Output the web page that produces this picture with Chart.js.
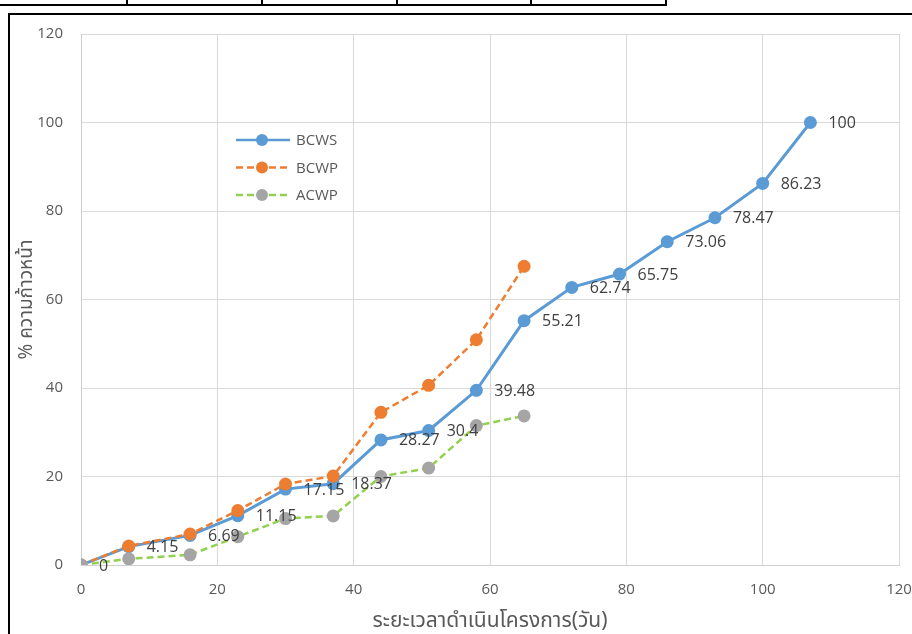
<!DOCTYPE html>
<html>
<head>
<meta charset="utf-8">
<script src="https://cdn.jsdelivr.net/npm/chart.js@4"></script>
<style>
    html, body { margin: 0; padding: 0; background: #fff; }
    #wrap { position: relative; width: 912px; height: 634px; overflow: hidden; }
    .cell { position: absolute; top: -10px; height: 12px; border: 2px solid #000; border-left: none; }
    #box { position: absolute; left: 8px; top: 13px; width: 920px; height: 640px; border: 2.5px solid #000; }
    canvas { position: absolute; left: 0; top: 0; }
</style>
</head>
<body>
<div id="wrap">
    <div class="cell" style="left:-2px; width:128px;"></div>
    <div class="cell" style="left:128px; width:133px;"></div>
    <div class="cell" style="left:263px; width:133px;"></div>
    <div class="cell" style="left:398px; width:132px;"></div>
    <div class="cell" style="left:532px; width:133px;"></div>
    <div id="box"></div>
    <canvas id="chart" width="912" height="634"></canvas>
</div>
<script>
// วันที่ (แกน x)
const days = [0, 7, 16, 23, 30, 37, 44, 51, 58, 65, 72, 79, 86, 93, 100, 107];
const bcws = [0, 4.15, 6.69, 11.15, 17.15, 18.37, 28.27, 30.4, 39.48, 55.21, 62.74, 65.75, 73.06, 78.47, 86.23, 100];
const bcwp = [0, 4.3, 7.0, 12.3, 18.3, 20.1, 34.5, 40.6, 50.9, 67.5];
const acwp = [0, 1.4, 2.3, 6.4, 10.5, 11.1, 20.0, 21.9, 31.5, 33.7];
const xTicks = [0, 20, 40, 60, 80, 100, 120];
const yTicks = [0, 20, 40, 60, 80, 100, 120];

const thaiFont = "'Noto Sans Thai', 'Leelawadee UI', Tahoma, 'Open Sans', sans-serif";

function toPoints(vals) {
    return vals.map((v, i) => ({ x: days[i], y: v }));
}

const series = [
    { label: 'BCWS', data: bcws, line: '#5b9bd5', dot: '#5b9bd5', dash: [] },
    { label: 'BCWP', data: bcwp, line: '#ed7d31', dot: '#ed7d31', dash: [7, 4] },
    { label: 'ACWP', data: acwp, line: '#92d050', dot: '#a5a5a5', dash: [7, 4] }
];

// ป้ายค่าของ BCWS ด้านขวาของจุด
const valueLabels = {
    id: 'valueLabels',
    afterDatasetsDraw(chart) {
        const ctx = chart.ctx;
        const meta = chart.getDatasetMeta(0);
        ctx.save();
        ctx.font = "16px 'Open Sans', sans-serif";
        ctx.fillStyle = '#404040';
        ctx.textAlign = 'left';
        ctx.textBaseline = 'middle';
        meta.data.forEach((pt, i) => {
            ctx.fillText(String(bcws[i]), pt.x + 18, pt.y + 1);
        });
        ctx.restore();
    }
};

// คำอธิบายสัญลักษณ์ภายในพื้นที่กราฟ
const insideLegend = {
    id: 'insideLegend',
    afterDraw(chart) {
        const ctx = chart.ctx;
        ctx.save();
        series.forEach((s, i) => {
            const y = 140 + i * 27.5;
            ctx.strokeStyle = s.line;
            ctx.lineWidth = 2.5;
            ctx.setLineDash(s.dash);
            ctx.beginPath();
            ctx.moveTo(236, y);
            ctx.lineTo(290, y);
            ctx.stroke();
            ctx.setLineDash([]);
            ctx.fillStyle = s.dot;
            ctx.beginPath();
            ctx.arc(262, y, 6, 0, Math.PI * 2);
            ctx.fill();
            ctx.fillStyle = '#595959';
            ctx.font = "15px 'Open Sans', sans-serif";
            ctx.textBaseline = 'middle';
            ctx.fillText(s.label, 296, y + 1);
        });
        ctx.restore();
    }
};

const ctx = document.getElementById('chart').getContext('2d');
new Chart(ctx, {
    type: 'line',
    data: {
        datasets: series.map((s, i) => ({
            label: s.label,
            data: toPoints(s.data),
            borderColor: s.line,
            borderWidth: i === 0 ? 3 : 2.5,
            borderDash: s.dash,
            backgroundColor: s.dot,
            pointBackgroundColor: s.dot,
            pointBorderColor: s.dot,
            pointRadius: 6.5,
            pointBorderWidth: 0,
            tension: 0,
            fill: false,
            order: 2 - i
        }))
    },
    options: {
        responsive: false,
        animation: false,
        devicePixelRatio: 1,
        layout: { padding: { left: 8, top: 34, right: 13, bottom: 0 } },
        plugins: {
            legend: { display: false },
            tooltip: { enabled: false }
        },
        scales: {
            x: {
                type: 'linear',
                min: 0,
                max: 120,
                afterBuildTicks: (scale) => { scale.ticks = xTicks.map(v => ({ value: v })); },
                afterFit: (scale) => {
                    scale.height = 69;
                    scale.paddingLeft = 0;
                    scale.paddingRight = 0;
                },
                grid: { color: '#d9d9d9', lineWidth: 1, drawTicks: false },
                border: { color: '#cfcfcf', width: 1 },
                ticks: {
                    padding: 16,
                    color: '#595959',
                    font: { size: 15, family: "'Open Sans', sans-serif" }
                },
                title: {
                    display: true,
                    text: 'ระยะเวลาดำเนินโครงการ(วัน)',
                    color: '#595959',
                    font: { size: 21, family: thaiFont },
                    padding: { top: 0, bottom: -1 }
                }
            },
            y: {
                min: 0,
                max: 120,
                afterBuildTicks: (scale) => { scale.ticks = yTicks.map(v => ({ value: v })); },
                afterFit: (scale) => {
                    scale.width = 73;
                    scale.paddingTop = 0;
                    scale.paddingBottom = 0;
                },
                grid: { color: '#d9d9d9', lineWidth: 1, drawTicks: false },
                border: { color: '#cfcfcf', width: 1 },
                ticks: {
                    padding: 18,
                    color: '#595959',
                    font: { size: 15, family: "'Open Sans', sans-serif" }
                },
                title: {
                    display: true,
                    text: '% ความก้าวหน้า',
                    color: '#595959',
                    font: { size: 19, family: thaiFont },
                    padding: { top: 9, bottom: 9 }
                }
            }
        }
    },
    plugins: [valueLabels, insideLegend]
});
</script>
</body>
</html>
